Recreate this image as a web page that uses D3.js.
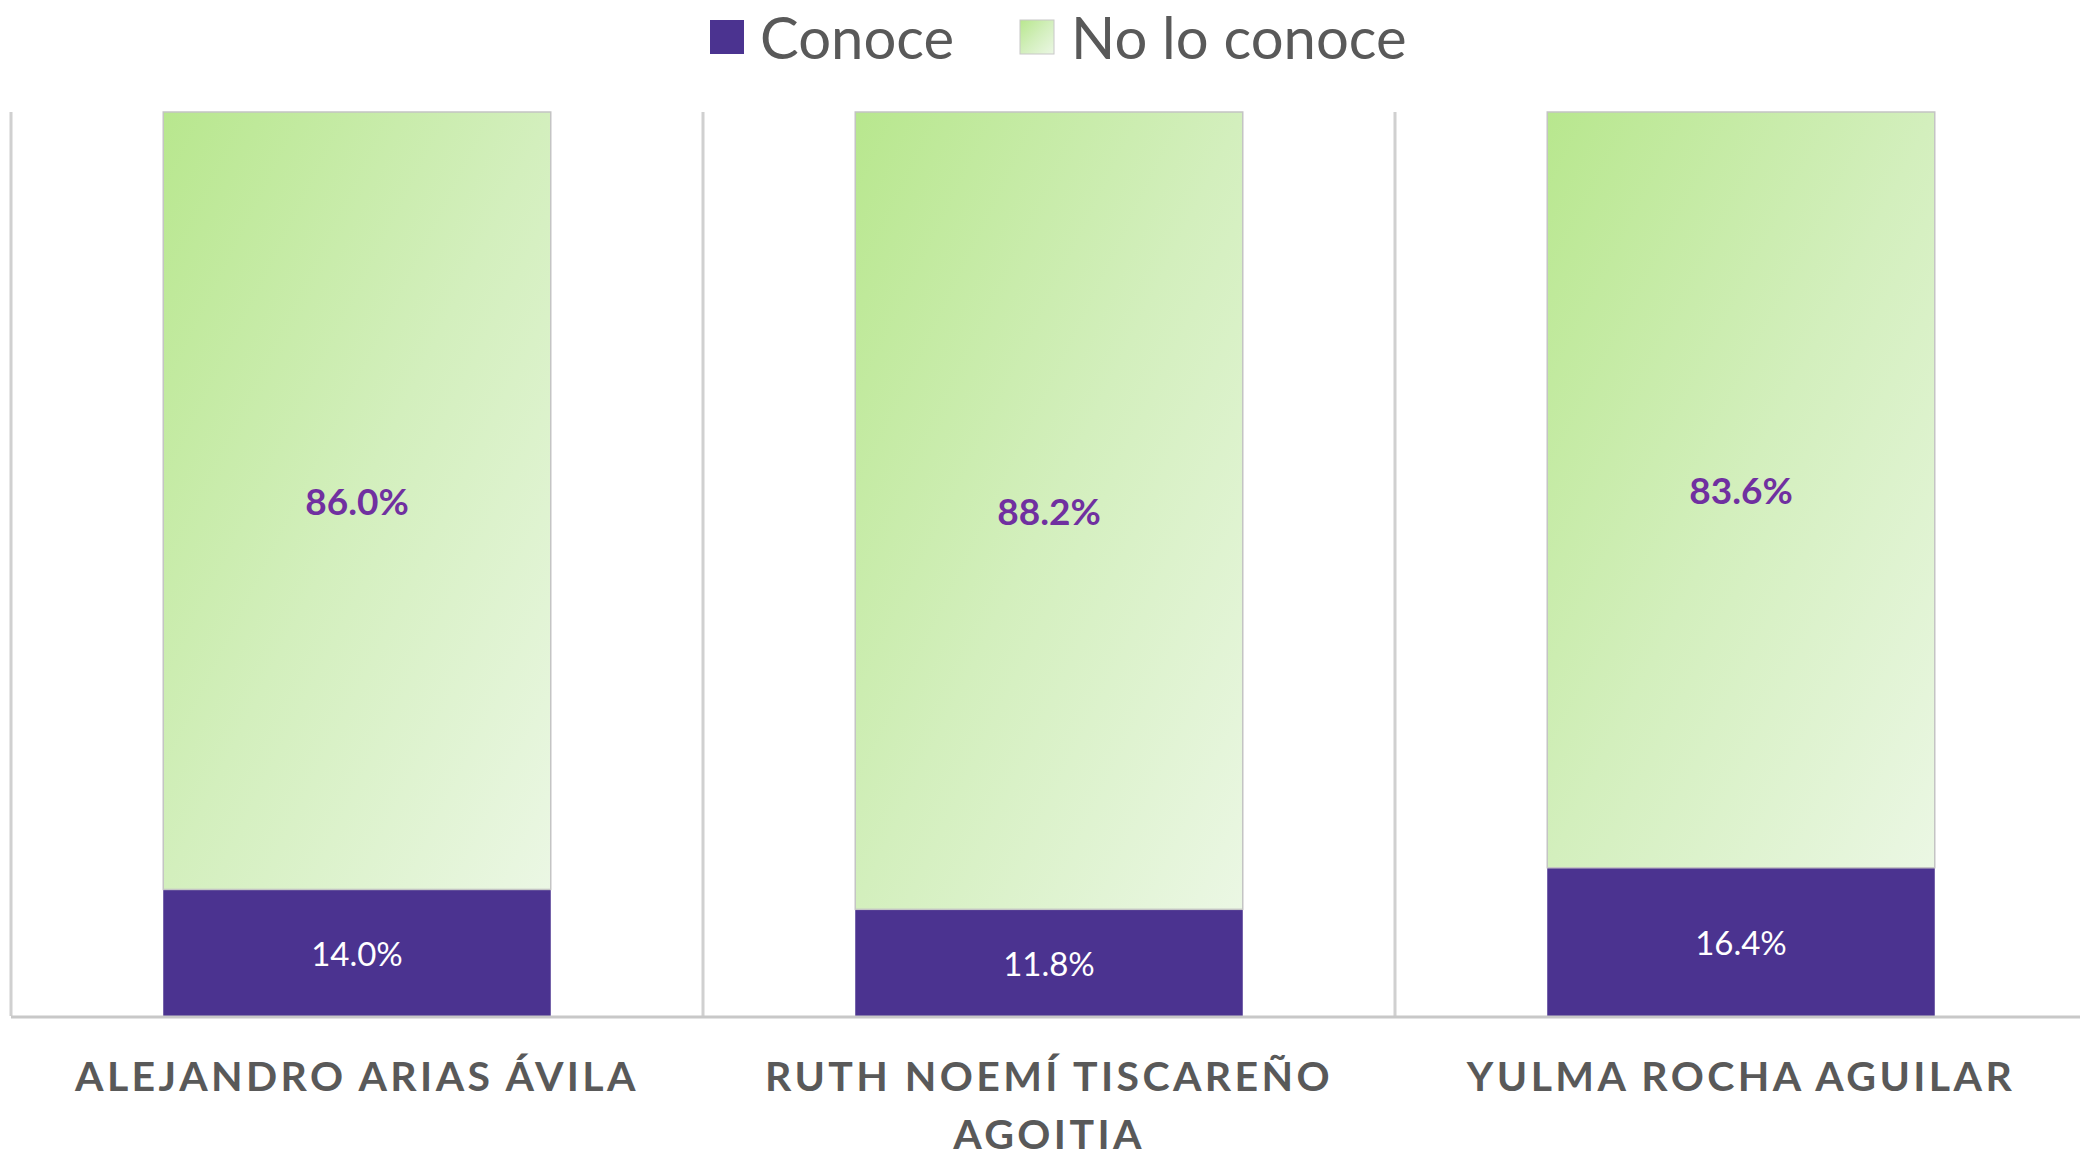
<!DOCTYPE html>
<html>
<head>
<meta charset="utf-8">
<script src="https://cdn.jsdelivr.net/npm/d3@7/dist/d3.min.js"></script>
<style>
  html, body { margin: 0; padding: 0; background: #ffffff; }
  svg { display: block; }
</style>
</head>
<body>
<svg id="chart" width="2080" height="1156"></svg>
<script>
// ---- data ----
const categories = ["ALEJANDRO ARIAS ÁVILA", "RUTH NOEMÍ TISCAREÑO AGOITIA", "YULMA ROCHA AGUILAR"];
const seriesNames = ["Conoce", "No lo conoce"];
const conoce = [14.0, 11.8, 16.4];
const noLoConoce = [86.0, 88.2, 83.6];

// ---- layout ----
const W = 2080, H = 1156;
const plotTop = 112, plotBottom = 1016, plotLeft = 11, plotRight = 2087;
const purple = "#4b3390";
const labelPurple = "#7030a0";
const textGray = "#595959";
const font = "Lato, 'Open Sans', 'DejaVu Sans', sans-serif";

const svg = d3.select("#chart");
const defs = svg.append("defs");
const grad = defs.append("linearGradient")
  .attr("id", "greenGrad")
  .attr("x1", "0").attr("y1", "0").attr("x2", "1").attr("y2", "1");
grad.append("stop").attr("offset", "0%").attr("stop-color", "#b8e78e");
grad.append("stop").attr("offset", "50%").attr("stop-color", "#d3efbd");
grad.append("stop").attr("offset", "100%").attr("stop-color", "#ebf7e4");

const x = d3.scaleBand().domain(categories).range([plotLeft, plotRight])
  .paddingInner(0.44).paddingOuter(0.22);
const y = d3.scaleLinear().domain([0, 100]).range([plotBottom, plotTop]);
const step = x.step();

const rows = categories.map((c, i) => ({ cat: c, a: conoce[i], b: noLoConoce[i] }));

// separators (category boundaries)
const sepX = d3.range(categories.length + 1).map(i => plotLeft + i * step);
svg.append("g").selectAll("line").data(sepX).join("line")
  .attr("x1", d => d).attr("x2", d => d)
  .attr("y1", y(100)).attr("y2", y(0))
  .attr("stroke", "#d0d0d0").attr("stroke-width", 3);

// bars: Conoce (bottom)
const g = svg.append("g");
g.selectAll("rect.a").data(rows).join("rect").attr("class", "a")
  .attr("x", d => x(d.cat)).attr("width", x.bandwidth())
  .attr("y", d => y(d.a)).attr("height", d => y(0) - y(d.a))
  .attr("fill", purple);

// bars: No lo conoce (stacked on top)
g.selectAll("rect.b").data(rows).join("rect").attr("class", "b")
  .attr("x", d => x(d.cat)).attr("width", x.bandwidth())
  .attr("y", d => y(d.a + d.b)).attr("height", d => y(d.a) - y(d.a + d.b))
  .attr("fill", "url(#greenGrad)")
  .attr("stroke", "#c4c4c4").attr("stroke-width", 1.5);

// baseline
svg.append("line")
  .attr("x1", plotLeft).attr("x2", W)
  .attr("y1", y(0) + 1).attr("y2", y(0) + 1)
  .attr("stroke", "#c8c8c8").attr("stroke-width", 3);

// value labels
g.selectAll("text.va").data(rows).join("text").attr("class", "va")
  .attr("x", d => x(d.cat) + x.bandwidth() / 2)
  .attr("y", d => (y(0) + y(d.a)) / 2)
  .attr("text-anchor", "middle").attr("dominant-baseline", "central")
  .attr("font-family", font).attr("font-size", 33).attr("fill", "#ffffff")
  .text(d => d.a.toFixed(1) + "%");

g.selectAll("text.vb").data(rows).join("text").attr("class", "vb")
  .attr("x", d => x(d.cat) + x.bandwidth() / 2)
  .attr("y", d => (y(d.a) + y(d.a + d.b)) / 2)
  .attr("text-anchor", "middle").attr("dominant-baseline", "central")
  .attr("font-family", font).attr("font-size", 37).attr("font-weight", "bold")
  .attr("fill", labelPurple)
  .text(d => d.b.toFixed(1) + "%");

// category labels with wrapping
const catG = svg.append("g");
rows.forEach(d => {
  const cx = x(d.cat) + x.bandwidth() / 2;
  const t = catG.append("text")
    .attr("x", cx).attr("y", 1075)
    .attr("text-anchor", "middle").attr("dominant-baseline", "central")
    .attr("font-family", font).attr("font-size", 41).attr("font-weight", "bold")
    .attr("letter-spacing", 3.4)
    .attr("fill", textGray);
  const words = d.cat.split(" ");
  let line = [];
  let ts = t.append("tspan").attr("x", cx).attr("dy", 0);
  words.forEach(w => {
    line.push(w);
    ts.text(line.join(" "));
    if (ts.node().getComputedTextLength() > step * 0.9 && line.length > 1) {
      line.pop();
      ts.text(line.join(" "));
      line = [w];
      ts = t.append("tspan").attr("x", cx).attr("dy", 58).text(w);
    }
  });
});

// legend
const legend = svg.append("g");
const legendItems = [
  { name: seriesNames[0], fill: purple, sx: 710, tx: 760 },
  { name: seriesNames[1], fill: "url(#greenGrad)", sx: 1020, tx: 1071 }
];
legendItems.forEach(it => {
  legend.append("rect").attr("x", it.sx).attr("y", 20).attr("width", 34).attr("height", 34)
    .attr("fill", it.fill)
    .attr("stroke", it.fill === purple ? "none" : "#c8c8c8").attr("stroke-width", 1);
  legend.append("text").attr("x", it.tx).attr("y", 36)
    .attr("dominant-baseline", "central")
    .attr("font-family", font).attr("font-size", 58).attr("fill", textGray)
    .text(it.name);
});
</script>
</body>
</html>
